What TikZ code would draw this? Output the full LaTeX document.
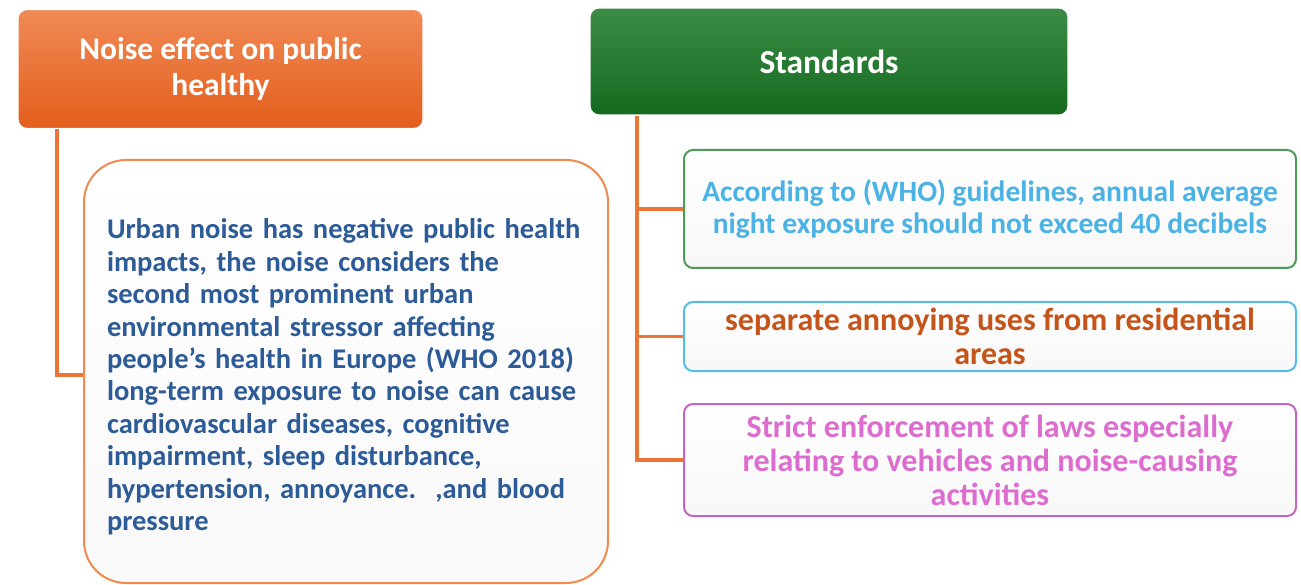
\documentclass[tikz,border=0pt]{standalone}
\usepackage{fontspec}
\setmainfont{Carlito}
\frenchspacing
\definecolor{hOrangeT}{HTML}{F08A55}
\definecolor{hOrangeB}{HTML}{E35E1C}
\definecolor{hGreenT}{HTML}{3C8C47}
\definecolor{hGreenB}{HTML}{156A1F}
\definecolor{lineOr}{HTML}{EC7535}
\definecolor{txtBlue}{HTML}{2D5B98}
\definecolor{txtSky}{HTML}{4AB2E4}
\definecolor{txtRust}{HTML}{C5541A}
\definecolor{txtPink}{HTML}{DC6DCF}
\definecolor{bGreen}{HTML}{4E9A5A}
\definecolor{bSky}{HTML}{55BCE8}
\definecolor{bPink}{HTML}{C565C2}
\definecolor{bOrange}{HTML}{F08A4E}
\tikzset{
  header/.style={rounded corners=9pt, draw=white, line width=1.2pt,
    text=white, align=center, inner sep=0pt},
  infobox/.style={rounded corners=9pt, line width=2pt, top color=white, bottom color=gray!6,
    align=center, inner sep=0pt, minimum width=612pt},
  connector/.style={draw=lineOr, line width=3.5pt},
}
\begin{document}
\begin{tikzpicture}[x=1pt,y=-1pt]
\useasboundingbox (0,0) rectangle (1301,585);
% headers
\node[header, top color=hOrangeT, bottom color=hOrangeB, minimum width=405pt, minimum height=119pt,
  font=\bfseries\fontsize{31.5}{36}\selectfont] (h1) at (220.5,69) {Noise effect on public\\healthy};
\node[header, top color=hGreenT, bottom color=hGreenB, minimum width=478pt, minimum height=107pt,
  font=\bfseries\fontsize{33.5}{36}\selectfont] (h2) at (829,61.5) {Standards};
% left info box
\node[rounded corners=42pt, draw=bOrange, line width=2pt, top color=white, bottom color=gray!5,
  minimum width=524pt, minimum height=423pt, text width=478pt, inner xsep=23pt, align=left,
  text=txtBlue, font=\bfseries\fontsize{28.5}{32.4}\selectfont] (lb) at (346,371.5)
  {\rule{0pt}{31pt}Urban noise has negative public health\\
   impacts, the noise considers the\\
   second most prominent urban\\
   environmental stressor affecting\\
   people’s health in Europe (WHO 2018)\\
   long-term exposure to noise can cause\\
   cardiovascular diseases, cognitive\\
   impairment, sleep disturbance,\\
   hypertension, annoyance.~ ,and blood\\
   pressure};
% right boxes
\node[infobox, draw=bGreen, text=txtSky, minimum height=118pt,
  font=\bfseries\fontsize{29.5}{32}\selectfont] (b1) at (990,209)
  {According to (WHO) guidelines, annual average\\night exposure should not exceed 40 decibels};
\node[infobox, draw=bSky, text=txtRust, minimum height=69pt,
  font=\bfseries\fontsize{32}{34}\selectfont] (b2) at (990,336.5)
  {separate annoying uses from residential\\areas};
\node[infobox, draw=bPink, text=txtPink, minimum height=112pt,
  font=\bfseries\fontsize{32}{34}\selectfont] (b3) at (990,460)
  {Strict enforcement of laws especially\\relating to vehicles and noise-causing\\activities};
% connectors
\coordinate (lj) at (57,375);
\coordinate (rs) at (637,0);
\draw[connector] (h1.south -| lj) -- (lj) -- (lj -| lb.west);
\draw[connector] (h2.south -| rs) -- (b3.west -| rs) -- (b3.west);
\draw[connector] (b1.west -| rs) -- (b1.west);
\draw[connector] (b2.west -| rs) -- (b2.west);
\end{tikzpicture}
\end{document}
